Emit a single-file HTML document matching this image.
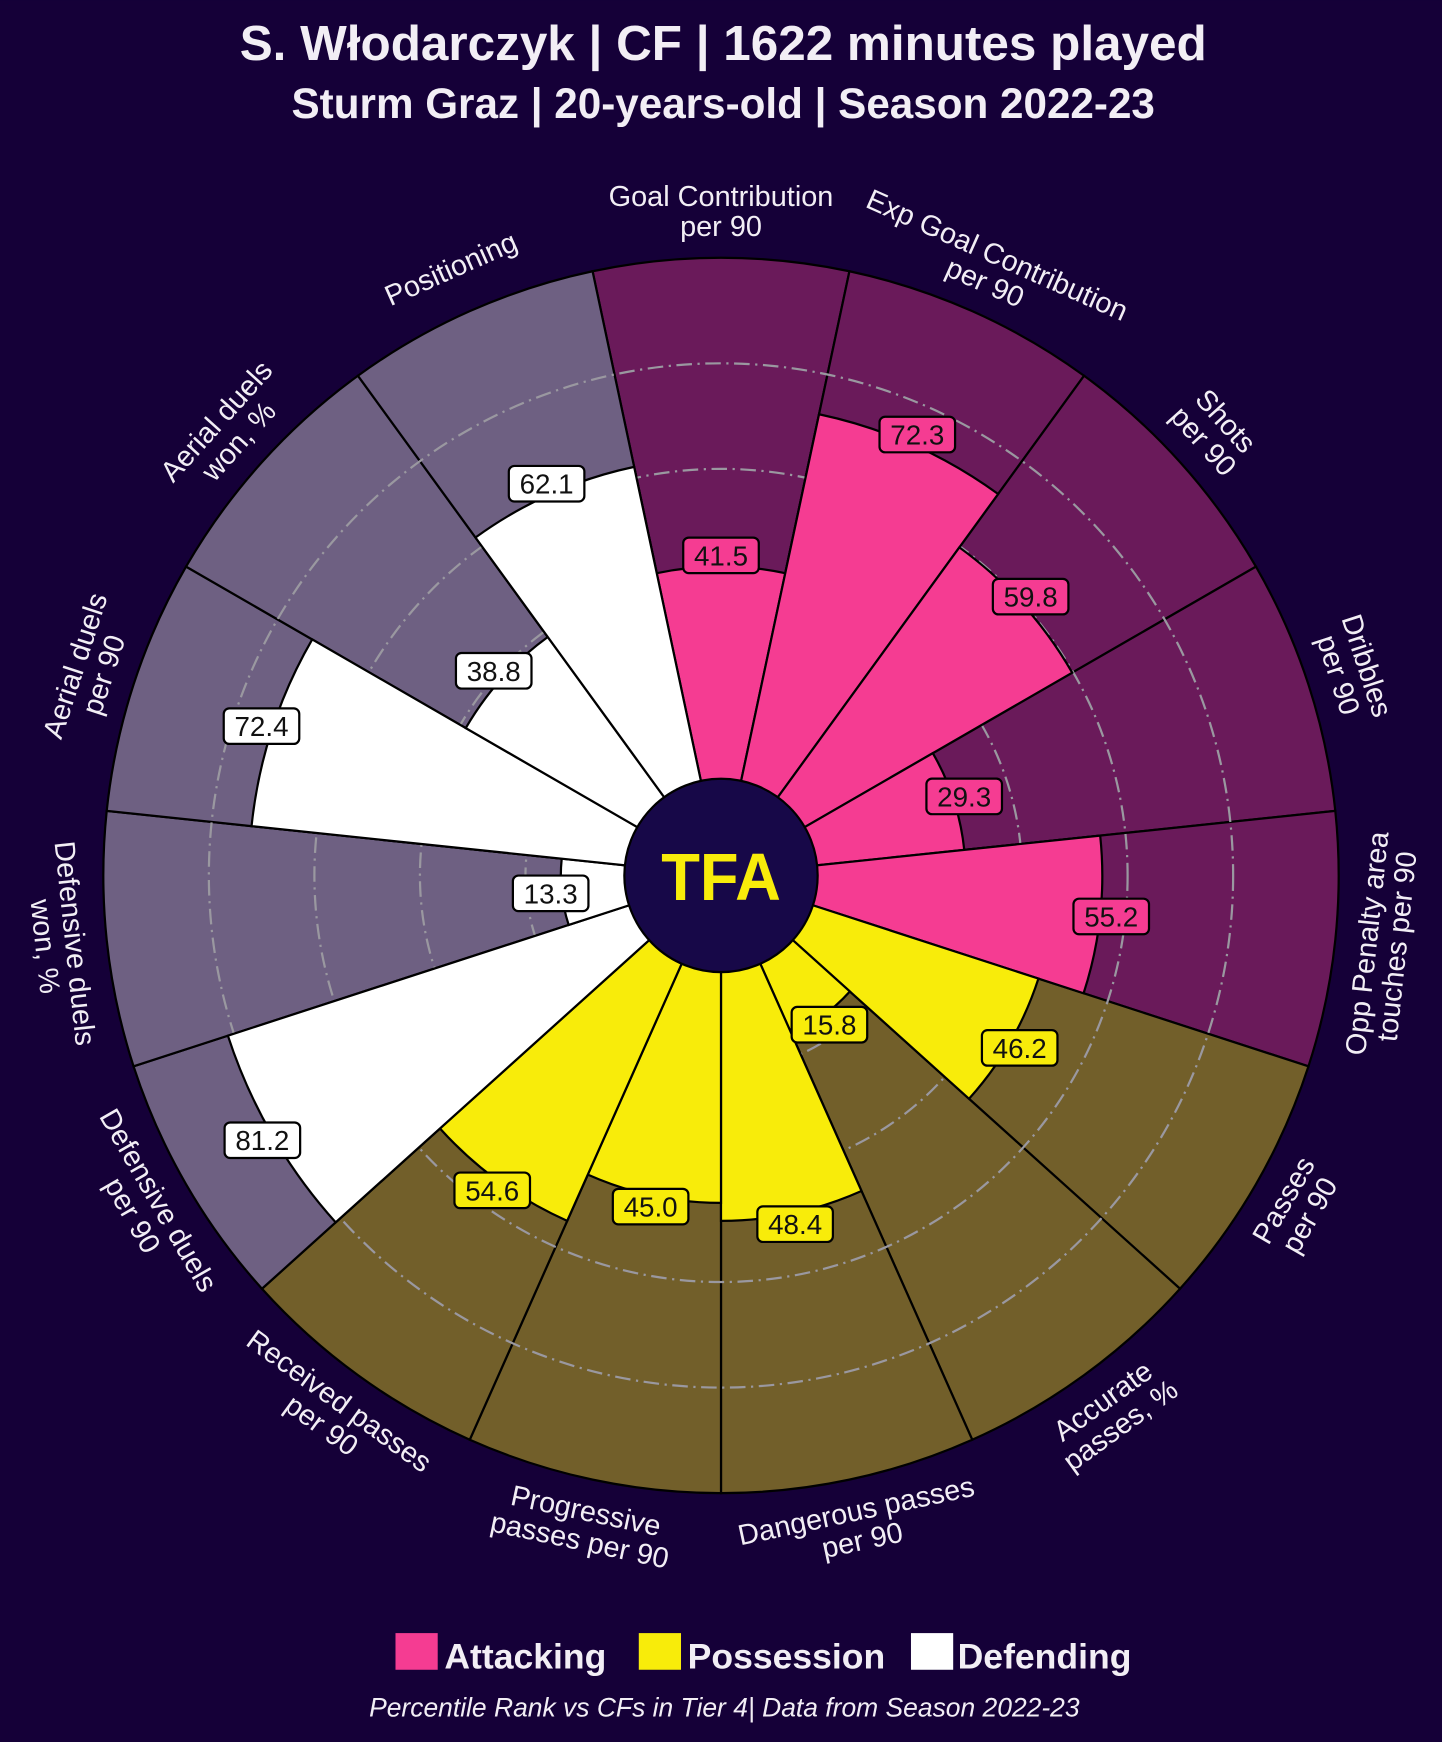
<!DOCTYPE html>
<html><head><meta charset="utf-8"><style>
html,body{margin:0;padding:0;background:#150038;}
svg{display:block}
</style></head><body>
<svg id="s" width="1442" height="1742" viewBox="0 0 1298 1568" xmlns="http://www.w3.org/2000/svg" font-family="'Liberation Sans', sans-serif">
<rect width="1298" height="1568" fill="#150038"/>
<text x="651" y="54" text-anchor="middle" fill="#f2eef5" font-size="44.5" font-weight="bold">S. Włodarczyk | CF | 1622 minutes played</text>
<text x="651" y="106" text-anchor="middle" fill="#f2eef5" font-size="38" font-weight="bold">Sturm Graz | 20-years-old | Season 2022-23</text>
<g id="g"></g>
<rect x="356" y="1470" width="38" height="33" fill="#f53c92"/>
<text x="400" y="1502" fill="#f2eef5" font-size="32" font-weight="bold">Attacking</text>
<rect x="575" y="1470" width="38" height="33" fill="#f8ec0a"/>
<text x="619" y="1502" fill="#f2eef5" font-size="32" font-weight="bold">Possession</text>
<rect x="820" y="1470" width="38" height="33" fill="#ffffff"/>
<text x="862" y="1502" fill="#f2eef5" font-size="32" font-weight="bold">Defending</text>
<text x="652" y="1545" text-anchor="middle" fill="#f2eef5" font-size="23.8" font-style="italic">Percentile Rank vs CFs in Tier 4| Data from Season 2022-23</text>
</svg>
<script>
var cx=649,cy=788,R=556,r0=81;
var d=[["Goal Contribution|per 90",41.5,0],["Exp Goal Contribution|per 90",72.3,0],["Shots|per 90",59.8,0],["Dribbles|per 90",29.3,0],["Opp Penalty area|touches per 90",55.2,0],
["Passes|per 90",46.2,1],["Accurate|passes, %",15.8,1],["Dangerous passes|per 90",48.4,1],["Progressive|passes per 90",45.0,1],["Received passes|per 90",54.6,1],
["Defensive duels|per 90",81.2,2],["Defensive duels|won, %",13.3,2],["Aerial duels|per 90",72.4,2],["Aerial duels|won, %",38.8,2],["Positioning",62.1,2]];
var bg=["#6a1a5a","#725f2a","#6e6082"],fg=["#f53c92","#f8ec0a","#ffffff"];
function P(r,a){var t=a*Math.PI/180;return [cx+r*Math.sin(t),cy-r*Math.cos(t)];}
function wedge(r,a1,a2){var p1=P(r0,a1),p2=P(r,a1),p3=P(r,a2),p4=P(r0,a2);
return "M"+p1+"L"+p2+"A"+r+","+r+" 0 0 1 "+p3+"L"+p4+"A"+r0+","+r0+" 0 0 0 "+p1+"Z";}
var h="";
d.forEach(function(e,i){var a=i*24;h+='<path d="'+wedge(R,a-12,a+12)+'" fill="'+bg[e[2]]+'" stroke="#000" stroke-width="2"/>';});
[20,40,60,80].forEach(function(v){var r=r0+v/100*(R-r0);h+='<circle cx="'+cx+'" cy="'+cy+'" r="'+r+'" fill="none" stroke="#9a98a0" stroke-width="2" stroke-dasharray="14,5,2,5"/>';});
d.forEach(function(e,i){var a=i*24,r=r0+e[1]/100*(R-r0);h+='<path d="'+wedge(r,a-12,a+12)+'" fill="'+fg[e[2]]+'" stroke="#000" stroke-width="2"/>';});
d.forEach(function(e,i){var a=i*24,r=r0+e[1]/100*(R-r0)+10,p=P(r,a);
h+='<rect x="'+(p[0]-34)+'" y="'+(p[1]-16)+'" width="68" height="32" rx="5" fill="'+fg[e[2]]+'" stroke="#000" stroke-width="2"/>';
h+='<text x="'+p[0]+'" y="'+(p[1]+9)+'" text-anchor="middle" font-size="25" fill="#111">'+e[1].toFixed(1)+'</text>';
var rot=(a<=90||a>=270)?a:a-180; if(rot>180)rot-=360;
var q=P(598,a),ls=e[0].split("|");
h+='<g transform="translate('+q[0]+','+q[1]+') rotate('+rot+')">';
var n=ls.length;
ls.forEach(function(l,j){var y=(j-(n-1)/2)*27+9;h+='<text x="0" y="'+y+'" text-anchor="middle" font-size="26" fill="#f2eef5">'+l+'</text>';});
h+='</g>';});
h+='<circle cx="'+cx+'" cy="'+cy+'" r="87" fill="#170848" stroke="#000" stroke-width="2"/>';
h+='<text transform="translate('+cx+','+(cy+22)+') scale(0.95,1)" x="0" y="0" text-anchor="middle" font-size="60" font-weight="bold" fill="#f8ec0a">TFA</text>';
document.getElementById("g").innerHTML=h;
</script>
</body></html>
